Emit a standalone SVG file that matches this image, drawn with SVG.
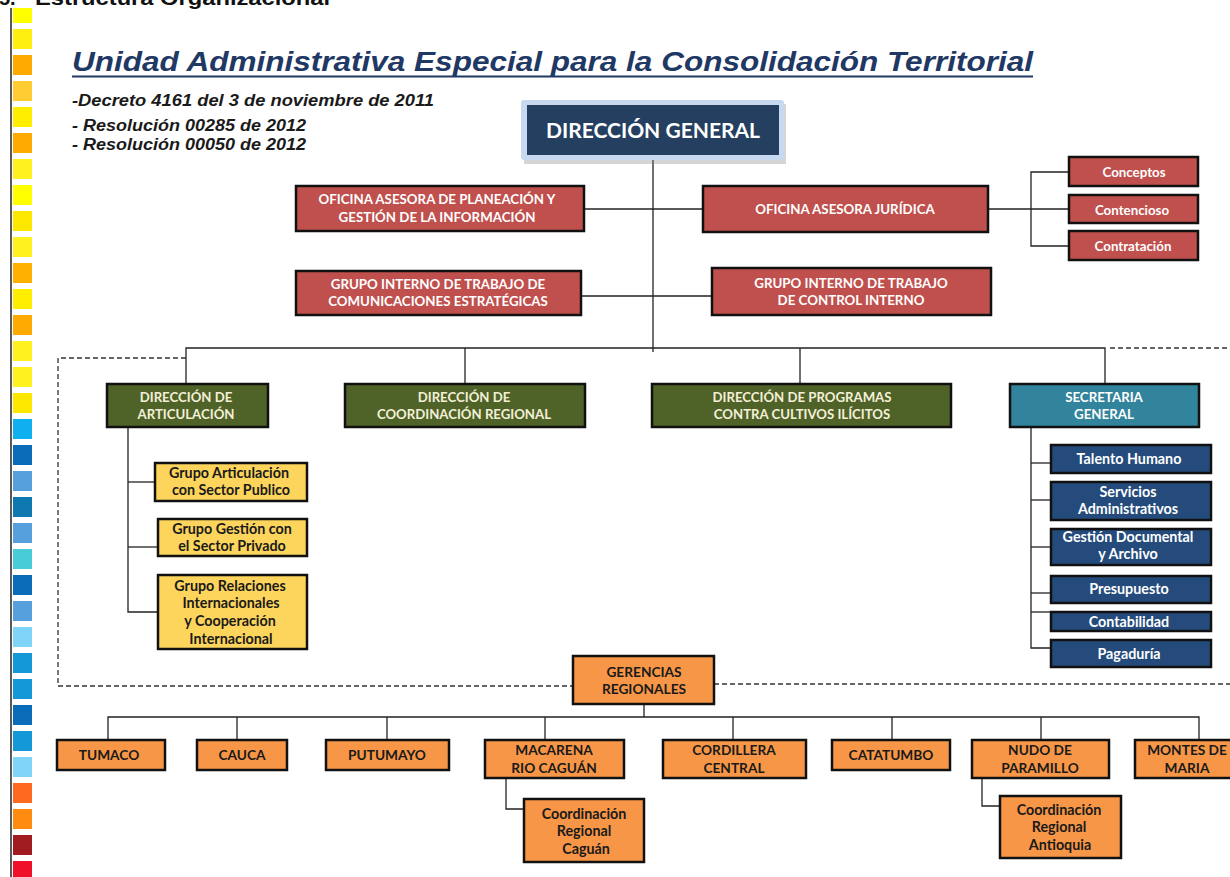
<svg xmlns="http://www.w3.org/2000/svg" width="1230" height="877" viewBox="0 0 1230 877">
<defs>
<style>
.bx{stroke:#111;stroke-width:2.5}
.red{fill:#c0504d}
.grn{fill:#4f6228}
.teal{fill:#31849b}
.blu{fill:#244b7c}
.yel{fill:#fdd55c}
.org{fill:#f79646}
.t{font-family:Lato,"Open Sans","Liberation Sans",sans-serif;font-weight:bold;text-anchor:middle}
.w{fill:#fff;font-size:13.3px}
.cr{fill:#f4f0d8;font-size:13.2px}
.d{fill:#1a1a1a;font-size:13.7px}
.y{fill:#1a1a1a;font-size:14.3px}
.wb{fill:#fff;font-size:14.3px}
.ln{stroke:#222;stroke-width:1.3;fill:none}
.ds{stroke:#333;stroke-width:1.3;fill:none;stroke-dasharray:5 3}
.sub{font-family:"Liberation Sans",Arial,sans-serif;font-weight:bold;font-style:italic;font-size:16px;fill:#1a1a1a}
</style>
</defs>
<rect width="1230" height="877" fill="#fff"/>

<g id="strip">
<line x1="11" y1="8" x2="11" y2="877" stroke="#222" stroke-width="1.5"/>
<rect x="13" y="8" width="19" height="15" fill="#ffff00"/>
<rect x="13" y="29" width="19" height="20" fill="#ffef10"/>
<rect x="13" y="55" width="19" height="20" fill="#ffaa00"/>
<rect x="13" y="81" width="19" height="20" fill="#ffcc33"/>
<rect x="13" y="107" width="19" height="20" fill="#ffee00"/>
<rect x="13" y="133" width="19" height="20" fill="#ffaa00"/>
<rect x="13" y="159" width="19" height="20" fill="#fff020"/>
<rect x="13" y="185" width="19" height="20" fill="#ffff00"/>
<rect x="13" y="211" width="19" height="20" fill="#ffe800"/>
<rect x="13" y="237" width="19" height="20" fill="#fff020"/>
<rect x="13" y="263" width="19" height="20" fill="#ffb000"/>
<rect x="13" y="289" width="19" height="20" fill="#ffee00"/>
<rect x="13" y="315" width="19" height="20" fill="#ffaa00"/>
<rect x="13" y="341" width="19" height="20" fill="#fff020"/>
<rect x="13" y="367" width="19" height="20" fill="#fff020"/>
<rect x="13" y="393" width="19" height="20" fill="#ffe800"/>
<rect x="13" y="419" width="19" height="20" fill="#10b0f0"/>
<rect x="13" y="445" width="19" height="20" fill="#0a6bb8"/>
<rect x="13" y="471" width="19" height="20" fill="#55a0dd"/>
<rect x="13" y="497" width="19" height="20" fill="#0e78b0"/>
<rect x="13" y="523" width="19" height="20" fill="#55a0dd"/>
<rect x="13" y="549" width="19" height="20" fill="#48ccd8"/>
<rect x="13" y="575" width="19" height="20" fill="#0a6bb8"/>
<rect x="13" y="601" width="19" height="20" fill="#55a0dd"/>
<rect x="13" y="627" width="19" height="20" fill="#80d4fa"/>
<rect x="13" y="653" width="19" height="20" fill="#1598d8"/>
<rect x="13" y="679" width="19" height="20" fill="#1598d8"/>
<rect x="13" y="705" width="19" height="20" fill="#0a6bb8"/>
<rect x="13" y="731" width="19" height="20" fill="#1598d8"/>
<rect x="13" y="757" width="19" height="20" fill="#80d4fa"/>
<rect x="13" y="783" width="19" height="20" fill="#ff6a20"/>
<rect x="13" y="809" width="19" height="20" fill="#ff8c10"/>
<rect x="13" y="835" width="19" height="20" fill="#a01c20"/>
<rect x="13" y="861" width="19" height="20" fill="#f0102a"/>
</g>

<g id="header">
<text x="-1" y="5" font-family="Liberation Sans,Arial,sans-serif" font-weight="bold" font-size="20" fill="#111">5.</text>
<text x="35" y="5" font-family="Liberation Sans,Arial,sans-serif" font-weight="bold" font-size="20" fill="#111" textLength="295" lengthAdjust="spacingAndGlyphs">Estructura Organizacional</text>
<text x="72" y="71" font-family="Liberation Sans,Arial,sans-serif" font-weight="bold" font-style="italic" font-size="28" fill="#1f3864" textLength="961" lengthAdjust="spacingAndGlyphs">Unidad Administrativa Especial para la Consolidación Territorial</text>
<line x1="72" y1="76.5" x2="1033" y2="76.5" stroke="#1f3864" stroke-width="2"/>
<text class="sub" x="72" y="106" textLength="362" lengthAdjust="spacingAndGlyphs">-Decreto 4161 del 3 de noviembre de 2011</text>
<text class="sub" x="72" y="131" textLength="234" lengthAdjust="spacingAndGlyphs">- Resolución 00285 de 2012</text>
<text class="sub" x="72" y="150" textLength="234" lengthAdjust="spacingAndGlyphs">- Resolución 00050 de 2012</text>
</g>

<g id="connectors">
<line class="ln" x1="653" y1="160" x2="653" y2="352"/>
<line class="ln" x1="584" y1="209" x2="703" y2="209"/>
<line class="ln" x1="581" y1="296" x2="712" y2="296"/>
<polyline class="ln" points="988,209 1031,209"/>
<polyline class="ln" points="1069,172 1031,172 1031,246 1069,246"/>
<line class="ln" x1="1031" y1="209" x2="1069" y2="209"/>
<polyline class="ln" points="186,384 186,348 1105,348 1105,384"/>
<line class="ln" x1="465" y1="348" x2="465" y2="384"/>
<line class="ln" x1="800" y1="348" x2="800" y2="384"/>
<polyline class="ln" points="128,427 128,612 158,612"/>
<line class="ln" x1="128" y1="482" x2="155" y2="482"/>
<line class="ln" x1="128" y1="547" x2="158" y2="547"/>
<polyline class="ln" points="1031,427 1031,648 1051,648"/>
<line class="ln" x1="1031" y1="463" x2="1051" y2="463"/>
<line class="ln" x1="1031" y1="500" x2="1051" y2="500"/>
<line class="ln" x1="1031" y1="547" x2="1051" y2="547"/>
<line class="ln" x1="1031" y1="593" x2="1051" y2="593"/>
<line class="ln" x1="1031" y1="612" x2="1051" y2="612"/>
<polyline class="ds" points="186,358 58,358 58,686 573,686"/>
<polyline class="ds" points="714,684 1230,684"/>
<line class="ds" x1="1110" y1="348" x2="1230" y2="348"/>
<line class="ln" x1="644" y1="704" x2="644" y2="717"/>
<polyline class="ln" points="108,740 108,717 1199,717 1199,740"/>
<line class="ln" x1="237" y1="717" x2="237" y2="740"/>
<line class="ln" x1="387" y1="717" x2="387" y2="740"/>
<line class="ln" x1="545" y1="717" x2="545" y2="740"/>
<line class="ln" x1="733" y1="717" x2="733" y2="740"/>
<line class="ln" x1="892" y1="717" x2="892" y2="740"/>
<line class="ln" x1="1041" y1="717" x2="1041" y2="740"/>
<polyline class="ln" points="506,778 506,809 524,809"/>
<polyline class="ln" points="982,778 982,806 1000,806"/>
</g>

<g id="direccion-general">
<rect x="524" y="104" width="262" height="60" fill="#888" opacity="0.35"/>
<rect x="521" y="100" width="263" height="60" rx="3" fill="#c6d9f1"/>
<rect x="527" y="105" width="252" height="50" fill="#243f60"/>
<text class="t" x="653" y="138" font-size="21" fill="#fff">DIRECCIÓN GENERAL</text>
</g>

<g id="planeacion">
<rect class="bx red" x="296" y="186" width="288" height="45"/>
<text class="t w" x="437" y="204">OFICINA ASESORA  DE PLANEACIÓN  Y</text>
<text class="t w" x="437" y="222">GESTIÓN  DE LA INFORMACIÓN</text>
</g>
<g id="juridica">
<rect class="bx red" x="703" y="186" width="285" height="46"/>
<text class="t w" x="845" y="214">OFICINA ASESORA  JURÍDICA</text>
</g>
<g id="conceptos">
<rect class="bx red" x="1069" y="157" width="129" height="29"/>
<text class="t w" x="1134" y="177" font-size="14">Conceptos</text>
</g>
<g id="contencioso">
<rect class="bx red" x="1069" y="195" width="129" height="28"/>
<text class="t w" x="1132" y="215" font-size="14">Contencioso</text>
</g>
<g id="contratacion">
<rect class="bx red" x="1069" y="231" width="129" height="29"/>
<text class="t w" x="1133" y="251" font-size="14">Contratación</text>
</g>
<g id="comunicaciones">
<rect class="bx red" x="296" y="271" width="285" height="44"/>
<text class="t w" x="438" y="289">GRUPO INTERNO  DE TRABAJO DE</text>
<text class="t w" x="438" y="306">COMUNICACIONES  ESTRATÉGICAS</text>
</g>
<g id="control-interno">
<rect class="bx red" x="712" y="268" width="279" height="47"/>
<text class="t w" x="851" y="288">GRUPO INTERNO  DE TRABAJO</text>
<text class="t w" x="851" y="305">DE CONTROL  INTERNO</text>
</g>

<g id="dir-articulacion">
<rect class="bx grn" x="107" y="384" width="161" height="43"/>
<text class="t cr" x="186" y="402">DIRECCIÓN  DE</text>
<text class="t cr" x="186" y="419">ARTICULACIÓN</text>
</g>
<g id="dir-coordinacion">
<rect class="bx grn" x="345" y="384" width="240" height="43"/>
<text class="t cr" x="464" y="402">DIRECCIÓN  DE</text>
<text class="t cr" x="464" y="419">COORDINACIÓN  REGIONAL</text>
</g>
<g id="dir-programas">
<rect class="bx grn" x="652" y="384" width="299" height="43"/>
<text class="t cr" x="802" y="402">DIRECCIÓN  DE PROGRAMAS</text>
<text class="t cr" x="802" y="419">CONTRA  CULTIVOS  ILÍCITOS</text>
</g>
<g id="secretaria">
<rect class="bx teal" x="1010" y="384" width="189" height="43"/>
<text class="t w" x="1104" y="402">SECRETARIA</text>
<text class="t w" x="1104" y="419">GENERAL</text>
</g>

<g id="g-publico">
<rect class="bx yel" x="155" y="463" width="152" height="38" stroke-width="1.5"/>
<text class="t y" x="229" y="478">Grupo Articulación</text>
<text class="t y" x="231" y="495">con Sector Publico</text>
</g>
<g id="g-privado">
<rect class="bx yel" x="158" y="519" width="149" height="37" stroke-width="1.5"/>
<text class="t y" x="232" y="534">Grupo Gestión  con</text>
<text class="t y" x="232" y="551">el Sector Privado</text>
</g>
<g id="g-relaciones">
<rect class="bx yel" x="158" y="575" width="149" height="74" stroke-width="1.5"/>
<text class="t y" x="230" y="591">Grupo Relaciones</text>
<text class="t y" x="231" y="608">Internacionales</text>
<text class="t y" x="230" y="626">y Cooperación</text>
<text class="t y" x="231" y="644">Internacional</text>
</g>

<g id="talento">
<rect class="bx blu" x="1051" y="445" width="160" height="28" stroke-width="1.5"/>
<text class="t wb" x="1129" y="464">Talento Humano</text>
</g>
<g id="servicios">
<rect class="bx blu" x="1051" y="482" width="160" height="38" stroke-width="1.5"/>
<text class="t wb" x="1128" y="497">Servicios</text>
<text class="t wb" x="1128" y="514">Administrativos</text>
</g>
<g id="gestion-doc">
<rect class="bx blu" x="1051" y="529" width="160" height="36" stroke-width="1.5"/>
<text class="t wb" x="1128" y="542">Gestión Documental</text>
<text class="t wb" x="1128" y="559">y Archivo</text>
</g>
<g id="presupuesto">
<rect class="bx blu" x="1051" y="576" width="160" height="27" stroke-width="1.5"/>
<text class="t wb" x="1129" y="594">Presupuesto</text>
</g>
<g id="contabilidad">
<rect class="bx blu" x="1051" y="612" width="160" height="19" stroke-width="1.5"/>
<text class="t wb" x="1129" y="627">Contabilidad</text>
</g>
<g id="pagaduria">
<rect class="bx blu" x="1051" y="640" width="160" height="27" stroke-width="1.5"/>
<text class="t wb" x="1129" y="659">Pagaduría</text>
</g>

<g id="gerencias">
<rect class="bx org" x="573" y="656" width="141" height="48"/>
<text class="t d" x="644" y="677">GERENCIAS</text>
<text class="t d" x="644" y="694">REGIONALES</text>
</g>
<g id="tumaco">
<rect class="bx org" x="57" y="740" width="108" height="30"/>
<text class="t d" x="109" y="760">TUMACO</text>
</g>
<g id="cauca">
<rect class="bx org" x="197" y="740" width="90" height="30"/>
<text class="t d" x="242" y="760">CAUCA</text>
</g>
<g id="putumayo">
<rect class="bx org" x="326" y="740" width="123" height="30"/>
<text class="t d" x="387" y="760">PUTUMAYO</text>
</g>
<g id="macarena">
<rect class="bx org" x="485" y="740" width="139" height="38"/>
<text class="t d" x="554" y="755">MACARENA</text>
<text class="t d" x="554" y="773">RIO CAGUÁN</text>
</g>
<g id="cordillera">
<rect class="bx org" x="663" y="740" width="143" height="38"/>
<text class="t d" x="734" y="755">CORDILLERA</text>
<text class="t d" x="734" y="773">CENTRAL</text>
</g>
<g id="catatumbo">
<rect class="bx org" x="832" y="740" width="118" height="30"/>
<text class="t d" x="891" y="760">CATATUMBO</text>
</g>
<g id="nudo">
<rect class="bx org" x="972" y="740" width="137" height="38"/>
<text class="t d" x="1040" y="755">NUDO DE</text>
<text class="t d" x="1040" y="773">PARAMILLO</text>
</g>
<g id="montes">
<rect class="bx org" x="1135" y="740" width="100" height="38"/>
<text class="t d" x="1187" y="755">MONTES DE</text>
<text class="t d" x="1187" y="773">MARIA</text>
</g>
<g id="coord-caguan">
<rect class="bx org" x="524" y="799" width="120" height="63"/>
<text class="t y" x="584" y="819">Coordinación</text>
<text class="t y" x="584" y="836">Regional</text>
<text class="t y" x="586" y="854">Caguán</text>
</g>
<g id="coord-antioquia">
<rect class="bx org" x="1000" y="796" width="121" height="62"/>
<text class="t y" x="1059" y="815">Coordinación</text>
<text class="t y" x="1059" y="832">Regional</text>
<text class="t y" x="1060" y="850">Antioquia</text>
</g>
</svg>
